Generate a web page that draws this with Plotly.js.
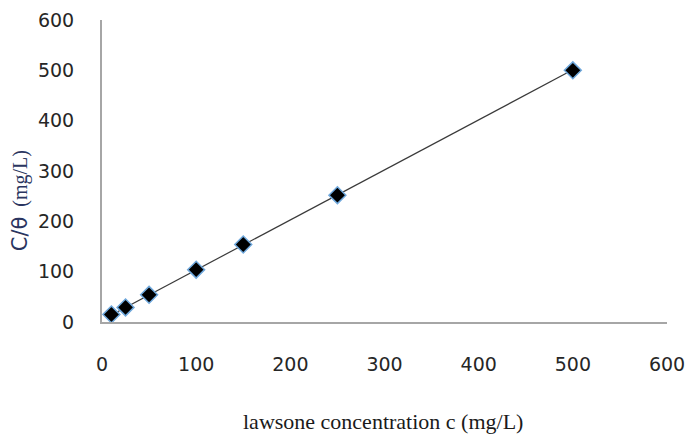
<!DOCTYPE html>
<html>
<head>
<meta charset="utf-8">
<script src="https://cdn.plot.ly/plotly-3.0.1.min.js"></script>
<style>html,body{margin:0;padding:0;background:#fff;}#chart{width:687px;height:436px;}</style>
</head>
<body>
<div id="chart"></div>
<script>
// Data
var concentration = [10, 25, 50, 100, 150, 250, 500];
var cOverTheta = [15, 29, 54, 104, 154, 252, 500];
var trendX = [10, 500];
var trendY = [14, 501];
var xTickVals = [0, 100, 200, 300, 400, 500, 600];
var yTickVals = [0, 100, 200, 300, 400, 500, 600];
var xTitle = 'lawsone concentration c (mg/L)';
var yTitle = '<span style="font-family:DejaVu Sans;font-size:21px">C/θ</span>  (mg/L)';

var traces = [
  {
    x: trendX, y: trendY, mode: 'lines', type: 'scatter',
    line: {color: '#3a3a3a', width: 1.2}, hoverinfo: 'skip', showlegend: false
  },
  {
    x: concentration, y: cOverTheta, mode: 'markers', type: 'scatter',
    marker: {symbol: 'diamond', size: 13, color: '#000000', line: {color: '#6fa8dc', width: 1.5}},
    showlegend: false
  }
];

var layout = {
  width: 687, height: 436,
  margin: {l: 102, r: 20, t: 20, b: 114},
  paper_bgcolor: '#ffffff', plot_bgcolor: '#ffffff',
  showlegend: false,
  xaxis: {
    range: [0, 600], tickvals: xTickVals, ticktext: xTickVals.map(String),
    showgrid: false, zeroline: false, showline: true, linecolor: '#a6a6a6', linewidth: 2,
    ticks: '', ticklabelstandoff: 24, ticklabeloverflow: 'allow',
    tickfont: {family: 'DejaVu Sans', size: 19, color: '#262626'}
  },
  yaxis: {
    range: [0, 600], tickvals: yTickVals, ticktext: yTickVals.map(String),
    showgrid: false, zeroline: false, showline: true, linecolor: '#a6a6a6', linewidth: 2,
    ticks: '', ticklabelstandoff: 22, ticklabeloverflow: 'allow',
    tickfont: {family: 'DejaVu Sans', size: 19, color: '#262626'}
  },
  annotations: [
    {
      text: xTitle, xref: 'paper', yref: 'paper', x: 0.497, y: -0.328,
      xanchor: 'center', yanchor: 'middle', showarrow: false,
      font: {family: 'Liberation Serif', size: 22, color: '#1a1a1a'}
    },
    {
      text: yTitle, xref: 'paper', yref: 'paper', x: -0.145, y: 0.40,
      xanchor: 'center', yanchor: 'middle', showarrow: false, textangle: -90,
      font: {family: 'Liberation Serif', size: 20, color: '#2a3560'}
    }
  ]
};

Plotly.newPlot('chart', traces, layout, {displayModeBar: false, staticPlot: true});
</script>
</body>
</html>
